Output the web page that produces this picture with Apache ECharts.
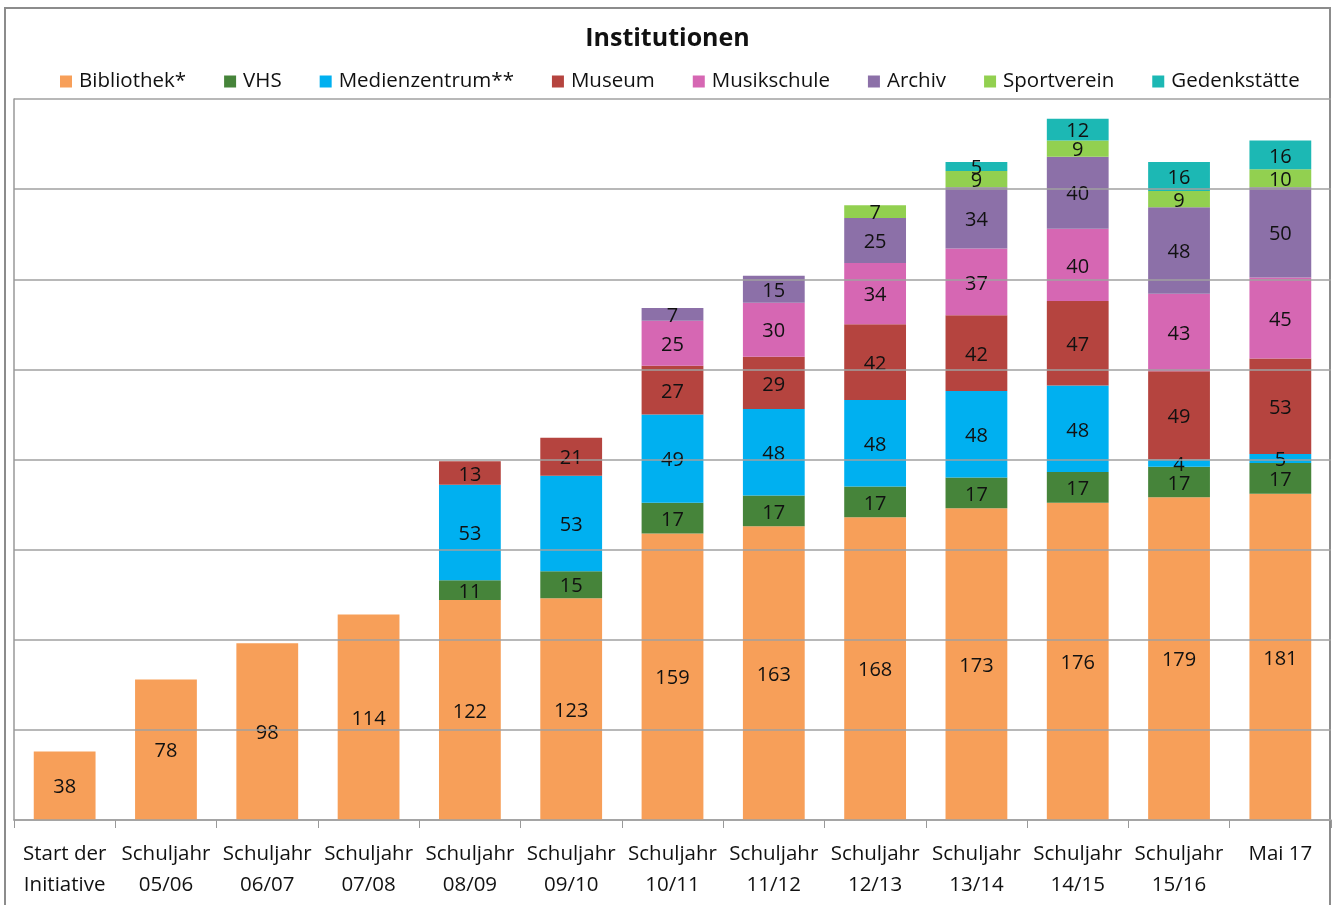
<!DOCTYPE html>
<html>
<head>
<meta charset="utf-8">
<script src="https://cdn.jsdelivr.net/npm/echarts@6/dist/echarts.min.js"></script>
<style>
  html, body { margin: 0; padding: 0; background: #fff; }
  #chart { width: 1335px; height: 905px; }
</style>
</head>
<body>
<div id="chart"></div>
<script>
// Kategorien (x-Achse)
var categories = ['Start der\nInitiative', 'Schuljahr\n05/06', 'Schuljahr\n06/07', 'Schuljahr\n07/08',
  'Schuljahr\n08/09', 'Schuljahr\n09/10', 'Schuljahr\n10/11', 'Schuljahr\n11/12', 'Schuljahr\n12/13',
  'Schuljahr\n13/14', 'Schuljahr\n14/15', 'Schuljahr\n15/16', 'Mai 17'];

// Werte je Institution (null = kein Eintrag)
var bibliothek    = [38, 78, 98, 114, 122, 123, 159, 163, 168, 173, 176, 179, 181];
var vhs           = [null, null, null, null, 11, 15, 17, 17, 17, 17, 17, 17, 17];
var medienzentrum = [null, null, null, null, 53, 53, 49, 48, 48, 48, 48, 4, 5];
var museum        = [null, null, null, null, 13, 21, 27, 29, 42, 42, 47, 49, 53];
var musikschule   = [null, null, null, null, null, null, 25, 30, 34, 37, 40, 43, 45];
var archiv        = [null, null, null, null, null, null, 7, 15, 25, 34, 40, 48, 50];
var sportverein   = [null, null, null, null, null, null, null, null, 7, 9, 9, 9, 10];
var gedenkstaette = [null, null, null, null, null, null, null, null, null, 5, 12, 16, 16];

var seriesNames = ['Bibliothek*', 'VHS', 'Medienzentrum**', 'Museum', 'Musikschule', 'Archiv', 'Sportverein', 'Gedenkstätte'];
var seriesData  = [bibliothek, vhs, medienzentrum, museum, musikschule, archiv, sportverein, gedenkstaette];
var colors = ['#F79F59', '#46843A', '#00B0F0', '#B5443F', '#D667B3', '#8C70A8', '#92D050', '#1CB8B4'];

var FONT = '"Open Sans"';

var series = [];
for (var i = 0; i < seriesNames.length; i++) {
  series.push({
    name: seriesNames[i],
    type: 'bar',
    stack: 'gesamt',
    barCategoryGap: '39%',
    data: seriesData[i],
    label: {
      show: true,
      position: 'inside',
      offset: [0, 2],
      color: '#111',
      fontFamily: FONT,
      fontSize: 20
    }
  });
}

var myChart = echarts.init(document.getElementById('chart'));
var option = {
  animation: false,
  color: colors,
  title: {
    text: 'Institutionen',
    left: 'center',
    top: 21,
    textStyle: { fontFamily: FONT, fontSize: 25, fontWeight: 'bold', color: '#111' }
  },
  legend: {
    top: 66,
    left: 55,
    itemWidth: 12,
    itemHeight: 12,
    itemGap: 38,
    icon: 'rect',
    textStyle: { fontFamily: FONT, fontSize: 20.5, color: '#111', padding: [0, 0, 0, 2] },
    data: seriesNames
  },
  grid: { left: 14, right: 4, top: 99, bottom: 85 },
  xAxis: {
    type: 'category',
    data: categories,
    axisLine: { lineStyle: { color: '#999', width: 1.5 } },
    axisTick: { show: true, length: 8, lineStyle: { color: '#999' } },
    axisLabel: {
      fontFamily: FONT, fontSize: 20.5, color: '#111',
      lineHeight: 31, margin: 19, interval: 0
    }
  },
  yAxis: {
    type: 'value',
    min: 0,
    max: 400,
    interval: 50,
    z: 10,
    axisLine: { show: true, lineStyle: { color: '#999', width: 1.5 } },
    axisTick: { show: false },
    axisLabel: { show: false },
    splitLine: { lineStyle: { color: '#A0A0A0', width: 1.5 } }
  },
  graphic: [{
    type: 'rect',
    shape: { x: 5, y: 8, width: 1325, height: 900 },
    style: { fill: 'none', stroke: '#8C8C8C', lineWidth: 2 },
    silent: true
  }],
  series: series
};
myChart.setOption(option);
</script>
</body>
</html>
